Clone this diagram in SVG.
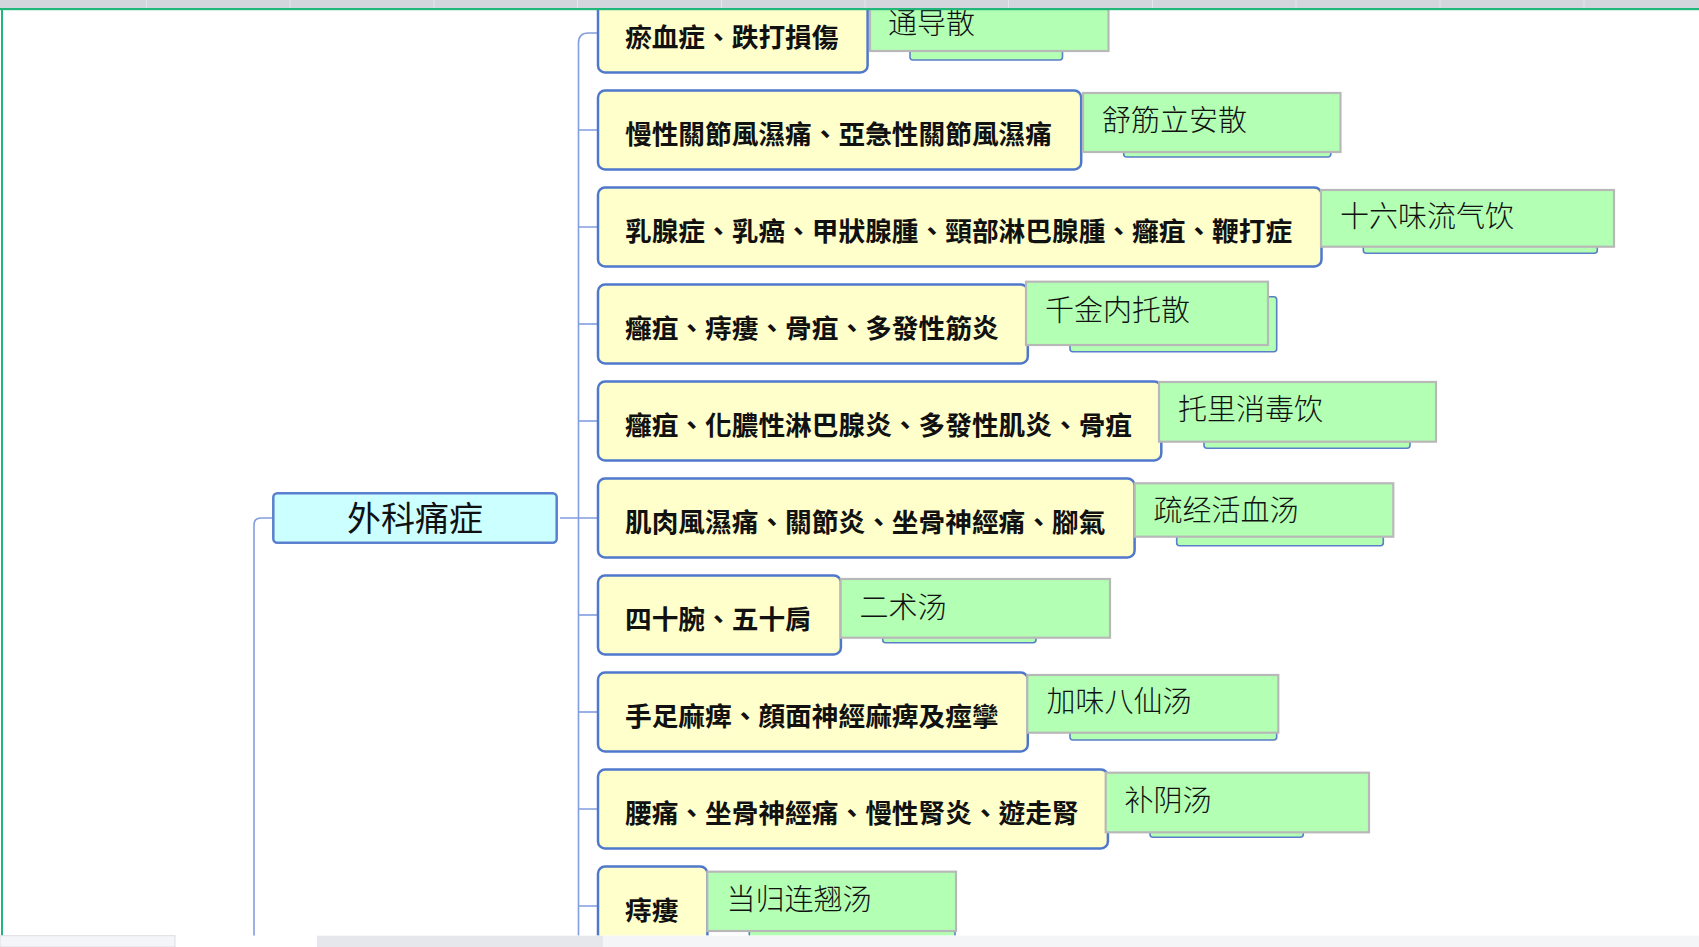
<svg xmlns="http://www.w3.org/2000/svg" width="1699" height="947" viewBox="0 0 1699 947">
<style>
.yn rect{fill:#ffffcc;stroke:#4f78cc;stroke-width:2.5}
.yn text{font-family:"Noto Sans CJK TC","Noto Sans CJK SC",sans-serif;font-size:26.7px;font-weight:bold;fill:#111}
.gb .back{fill:#b3ffb3;stroke:#5a7fc8;stroke-width:1.6}
.gb .front{fill:#b3ffb3;stroke:#b8b8b8;stroke-width:2.2}
.gb text{font-family:"Noto Sans CJK SC","Noto Sans CJK TC",sans-serif;font-size:29px;font-weight:300;fill:#111}
.conn path{fill:none;stroke:#829de0;stroke-width:1.6}
</style>
<defs>
<clipPath id="content"><rect x="3" y="10" width="1696" height="925.7"/></clipPath>
</defs>
<rect x="0" y="0" width="1699" height="947" fill="#ffffff"/>

<g id="header">
<rect x="0" y="0" width="1699" height="8" fill="#d3d6dd"/>
<g stroke="#e4e6ea" stroke-width="1">
<line x1="146.5" y1="0" x2="146.5" y2="8"/><line x1="290" y1="0" x2="290" y2="8"/><line x1="434" y1="0" x2="434" y2="8"/><line x1="577.5" y1="0" x2="577.5" y2="8"/><line x1="721.5" y1="0" x2="721.5" y2="8"/><line x1="865" y1="0" x2="865" y2="8"/><line x1="1008.5" y1="0" x2="1008.5" y2="8"/><line x1="1152.5" y1="0" x2="1152.5" y2="8"/><line x1="1296" y1="0" x2="1296" y2="8"/><line x1="1440" y1="0" x2="1440" y2="8"/><line x1="1584" y1="0" x2="1584" y2="8"/>
</g>
</g>

<g clip-path="url(#content)">
<g id="connectors" class="conn">
<path d="M578.5,936 V43 Q578.5,33 588.5,33 H598"/>
<path d="M578.5,130 H598"/>
<path d="M578.5,227 H598"/>
<path d="M578.5,324 H598"/>
<path d="M578.5,421 H598"/>
<path d="M560,518 H598"/>
<path d="M578.5,615 H598"/>
<path d="M578.5,712 H598"/>
<path d="M578.5,809 H598"/>
<path d="M578.5,906 H598"/>
<path d="M254,936 V525 Q254,518 261,518 H273"/>
</g>

<g id="root">
<rect x="273.3" y="493.3" width="283.4" height="49.4" rx="4" fill="#ccffff" stroke="#5b80d0" stroke-width="2.5"/>
<text x="415" y="531" text-anchor="middle" font-family="Noto Sans CJK SC, Noto Sans CJK TC, sans-serif" font-size="34" fill="#111">外科痛症</text>
</g>

<g id="n1" class="yn"><rect x="598" y="-6.5" width="269.6" height="79" rx="7"/><text x="625" y="46.5">瘀血症、跌打損傷</text></g>
<g id="n2" class="yn"><rect x="598" y="90.5" width="483.2" height="79" rx="7"/><text x="625" y="143.5">慢性關節風濕痛、亞急性關節風濕痛</text></g>
<g id="n3" class="yn"><rect x="598" y="187.5" width="723.5" height="79" rx="7"/><text x="625" y="240.5">乳腺症、乳癌、甲狀腺腫、頸部淋巴腺腫、癰疽、鞭打症</text></g>
<g id="n4" class="yn"><rect x="598" y="284.5" width="429.8" height="79" rx="7"/><text x="625" y="337.5">癰疽、痔瘻、骨疽、多發性筋炎</text></g>
<g id="n5" class="yn"><rect x="598" y="381.5" width="563.3" height="79" rx="7"/><text x="625" y="434.5">癰疽、化膿性淋巴腺炎、多發性肌炎、骨疽</text></g>
<g id="n6" class="yn"><rect x="598" y="478.5" width="536.6" height="79" rx="7"/><text x="625" y="531.5">肌肉風濕痛、關節炎、坐骨神經痛、腳氣</text></g>
<g id="n7" class="yn"><rect x="598" y="575.5" width="242.9" height="79" rx="7"/><text x="625" y="628.5">四十腕、五十肩</text></g>
<g id="n8" class="yn"><rect x="598" y="672.5" width="429.8" height="79" rx="7"/><text x="625" y="725.5">手足麻痺、顔面神經麻痺及痙攣</text></g>
<g id="n9" class="yn"><rect x="598" y="769.5" width="509.9" height="79" rx="7"/><text x="625" y="822.5">腰痛、坐骨神經痛、慢性腎炎、遊走腎</text></g>
<g id="n10" class="yn"><rect x="598" y="866.5" width="109.4" height="79" rx="7"/><text x="625" y="919.5">痔瘻</text></g>

<g id="g1" class="gb"><rect class="back" x="910" y="11" width="152.5" height="49" rx="3"/><rect class="front" x="870" y="-4" width="238.5" height="55"/><text x="888" y="34">通导散</text></g>
<g id="g2" class="gb"><rect class="back" x="1123.7" y="108" width="207.1" height="49" rx="3"/><rect class="front" x="1083" y="93" width="257.5" height="59"/><text x="1102" y="131">舒筋立安散</text></g>
<g id="g3" class="gb"><rect class="back" x="1363.3" y="205" width="234" height="48.3" rx="3"/><rect class="front" x="1321" y="190" width="293" height="56.7"/><text x="1340" y="227">十六味流气饮</text></g>
<g id="g4" class="gb"><rect class="back" x="1070" y="296.7" width="206.7" height="55" rx="3"/><rect class="front" x="1026" y="281.7" width="242" height="63.3"/><text x="1045" y="321">千金内托散</text></g>
<g id="g5" class="gb"><rect class="back" x="1204" y="397" width="206" height="51.3" rx="3"/><rect class="front" x="1159" y="382" width="277" height="59.7"/><text x="1178" y="420">托里消毒饮</text></g>
<g id="g6" class="gb"><rect class="back" x="1176.7" y="498.3" width="206.6" height="47.4" rx="3"/><rect class="front" x="1134.7" y="483.3" width="258.6" height="53.4"/><text x="1153.5" y="521">疏经活血汤</text></g>
<g id="g7" class="gb"><rect class="back" x="882.7" y="594" width="153.3" height="48.7" rx="3"/><rect class="front" x="840.7" y="579" width="269.3" height="58.7"/><text x="859.5" y="618">二术汤</text></g>
<g id="g8" class="gb"><rect class="back" x="1070" y="690" width="206.7" height="50" rx="3"/><rect class="front" x="1027.3" y="675" width="251" height="57.7"/><text x="1046.5" y="712">加味八仙汤</text></g>
<g id="g9" class="gb"><rect class="back" x="1150" y="787.7" width="153.3" height="49.6" rx="3"/><rect class="front" x="1105.7" y="772.7" width="263.3" height="59.6"/><text x="1124.5" y="811">补阴汤</text></g>
<g id="g10" class="gb"><rect class="back" x="749.3" y="886.7" width="205.7" height="60" rx="3"/><rect class="front" x="707.3" y="871.7" width="248.7" height="59.3"/><text x="726.5" y="910">当归连翘汤</text></g>
</g>

<g id="frame">
<rect x="0" y="8" width="1699" height="2.2" fill="#21b67a"/>
<rect x="1" y="8" width="2" height="928" fill="#21b67a"/>
</g>

<g id="footer">
<rect x="0" y="935.7" width="1699" height="11.3" fill="#ffffff"/>
<rect x="0" y="935.7" width="175" height="11.3" fill="#f4f5f7" stroke="#dcdde3" stroke-width="1"/>
<rect x="317" y="935.7" width="286" height="11.3" fill="#e6e7ec"/>
<rect x="603" y="935.7" width="1096" height="11.3" fill="#f4f5f7"/>
</g>
</svg>
